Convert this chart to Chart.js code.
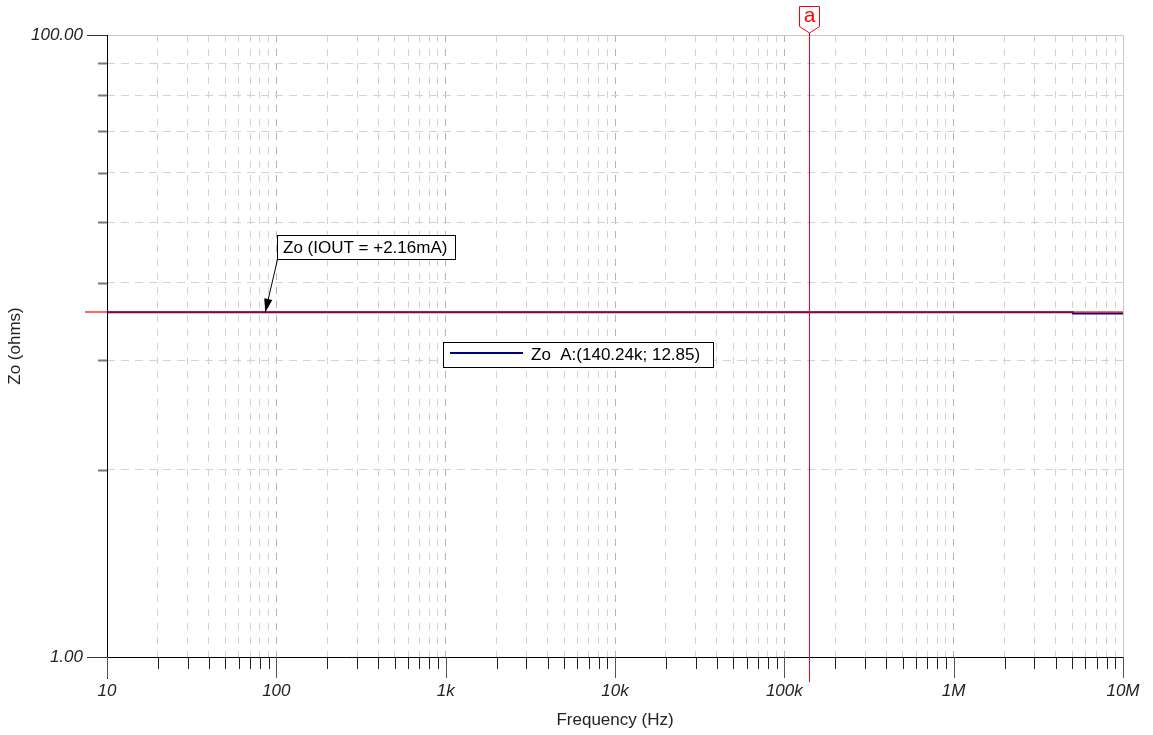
<!DOCTYPE html>
<html>
<head>
<meta charset="utf-8">
<script src="https://cdn.jsdelivr.net/npm/chart.js@4/dist/chart.umd.min.js"></script>
<style>
  html, body { margin: 0; padding: 0; background: #fff; }
  #wrap { width: 1153px; height: 735px; position: relative; }
</style>
</head>
<body>
<div id="wrap"><canvas id="zoChart"></canvas></div>
<script>
// trace data (frequency in Hz, impedance in ohms)
const freqs = [10, 100, 1000, 10000, 100000, 1000000, 5060000, 5070000, 10000000];
const zo = [12.85, 12.85, 12.85, 12.85, 12.85, 12.85, 12.85, 12.72, 12.72];

// axis ticks
const xDecades = [10, 100, 1e3, 1e4, 1e5, 1e6, 1e7];
const xDecadeLabels = ['10', '100', '1k', '10k', '100k', '1M', '10M'];
const yGridValues = [4, 9, 16, 25, 36, 49, 64, 81];
const yLabelValues = [1, 100];
const yLabels = ['1.00', '100.00'];

// cursor A
const cursorX = 140240;
const cursorY = 12.85;
const arrowTarget = 86;
const traceName = 'Zo';
const annotationText = 'Zo (IOUT = +2.16mA)';

let xTicks = [];
for (let d = 0; d < xDecades.length; d++) {
    xTicks.push(xDecades[d]);
    if (d < xDecades.length - 1) {
        for (let m = 2; m <= 9; m++) xTicks.push(xDecades[d] * m);
    }
}
const yTicks = [1].concat(yGridValues).concat([100]);

Chart.defaults.font.family = '"Liberation Sans", Arial, sans-serif';

const cursorPlugin = {
    id: 'cursor',
    afterDatasetsDraw(chart) {
        const ctx = chart.ctx;
        const ys = chart.scales.y;
        const area = chart.chartArea;
        const cy = Math.round(ys.getPixelForValue(cursorY));
        ctx.save();
        ctx.setLineDash([]);
        ctx.strokeStyle = 'rgba(255,0,0,0.6)';
        ctx.lineWidth = 2;
        ctx.beginPath();
        ctx.moveTo(85, cy);
        ctx.lineTo(area.right, cy);
        ctx.stroke();
        ctx.restore();
    },
    afterDraw(chart) {
        const ctx = chart.ctx;
        const xs = chart.scales.x, ys = chart.scales.y;
        const area = chart.chartArea;
        ctx.save();
        ctx.setLineDash([]);
        // top and right frame
        ctx.strokeStyle = '#c8c8c8';
        ctx.lineWidth = 1;
        ctx.beginPath();
        ctx.moveTo(area.left, area.top + 0.5);
        ctx.lineTo(area.right + 0.5, area.top + 0.5);
        ctx.lineTo(area.right + 0.5, area.bottom);
        ctx.stroke();
        // axes
        ctx.strokeStyle = '#000';
        ctx.beginPath();
        ctx.moveTo(87, area.bottom + 0.5);
        ctx.lineTo(area.right + 1, area.bottom + 0.5);
        ctx.moveTo(area.left + 0.5, area.top);
        ctx.lineTo(area.left + 0.5, 679);
        ctx.stroke();
        // y tick marks
        yTicks.forEach(v => {
            const y = Math.round(ys.getPixelForValue(v)) + 0.5;
            const isLabel = yLabelValues.indexOf(v) >= 0;
            ctx.strokeStyle = isLabel ? '#333' : '#777';
            ctx.lineWidth = isLabel ? 1 : 2;
            ctx.beginPath();
            ctx.moveTo(isLabel ? 87 : 98, y);
            ctx.lineTo(area.left, y);
            ctx.stroke();
        });
        // x tick marks
        xTicks.forEach(v => {
            const x = Math.round(xs.getPixelForValue(v)) + 0.5;
            const major = xDecades.indexOf(v) >= 0;
            ctx.strokeStyle = major ? '#555' : '#222';
            ctx.lineWidth = 1;
            ctx.beginPath();
            ctx.moveTo(x, area.bottom);
            ctx.lineTo(x, area.bottom + (major ? 21 : 12));
            ctx.stroke();
        });
        // vertical cursor line and marker "a"
        const cx = Math.round(xs.getPixelForValue(cursorX));
        ctx.fillStyle = '#ff0000';
        ctx.fillRect(cx, 30, 1, 652);
        ctx.fillStyle = '#fff';
        ctx.strokeStyle = '#ff0000';
        ctx.lineWidth = 1;
        ctx.beginPath();
        ctx.moveTo(cx - 9.5, 6.5);
        ctx.lineTo(cx + 10.5, 6.5);
        ctx.lineTo(cx + 10.5, 26.5);
        ctx.lineTo(cx + 0.5, 33);
        ctx.lineTo(cx - 9.5, 26.5);
        ctx.closePath();
        ctx.fill();
        ctx.stroke();
        ctx.fillStyle = '#ff0000';
        ctx.font = '21px "Liberation Sans", Arial';
        ctx.textAlign = 'center';
        ctx.textBaseline = 'middle';
        ctx.fillText('a', cx + 0.5, 16);
        // annotation with arrow
        ctx.font = '17px "Liberation Sans", Arial';
        ctx.textBaseline = 'middle';
        ctx.textAlign = 'left';
        ctx.fillStyle = '#fff';
        ctx.fillRect(277, 235, 178, 24);
        ctx.strokeStyle = '#000';
        ctx.strokeRect(277.5, 235.5, 178, 24);
        ctx.fillStyle = '#000';
        ctx.fillText(annotationText, 283, 248);
        const tx = xs.getPixelForValue(arrowTarget);
        const ty = ys.getPixelForValue(cursorY);
        const sx = 277.5, sy = 259.5;
        ctx.beginPath();
        ctx.moveTo(sx, sy);
        ctx.lineTo(tx, ty);
        ctx.stroke();
        const ang = Math.atan2(ty - sy, tx - sx);
        ctx.beginPath();
        ctx.moveTo(tx, ty);
        ctx.lineTo(tx - 14 * Math.cos(ang - 0.3), ty - 14 * Math.sin(ang - 0.3));
        ctx.lineTo(tx - 14 * Math.cos(ang + 0.3), ty - 14 * Math.sin(ang + 0.3));
        ctx.closePath();
        ctx.fill();
        // legend box
        ctx.fillStyle = '#fff';
        ctx.fillRect(443, 342, 270, 25);
        ctx.strokeStyle = '#000';
        ctx.strokeRect(443.5, 342.5, 270, 25);
        ctx.strokeStyle = '#000080';
        ctx.lineWidth = 2;
        ctx.beginPath();
        ctx.moveTo(450, 353);
        ctx.lineTo(523, 353);
        ctx.stroke();
        ctx.fillStyle = '#000';
        const yv = cursorY.toFixed(2);
        const xv = (cursorX / 1000).toFixed(2) + 'k';
        ctx.fillText(traceName + '  A:(' + xv + '; ' + yv + ')', 531, 355);
        ctx.restore();
    }
};

new Chart(document.getElementById('zoChart'), {
    type: 'line',
    data: {
        datasets: [{
            label: traceName,
            data: freqs.map((f, i) => ({ x: f, y: zo[i] })),
            borderColor: '#000080',
            borderWidth: 2,
            pointRadius: 0,
            tension: 0
        }]
    },
    options: {
        responsive: true,
        maintainAspectRatio: false,
        animation: false,
        layout: { padding: { top: 35, right: 30, left: 0, bottom: 0 } },
        plugins: { legend: { display: false }, tooltip: { enabled: false } },
        scales: {
            x: {
                type: 'logarithmic',
                min: 10,
                max: 1e7,
                afterBuildTicks: s => { s.ticks = xTicks.map(v => ({ value: v })); },
                afterFit: s => { s.height = 78; s.paddingLeft = 0; s.paddingRight = 0; },
                ticks: {
                    autoSkip: false,
                    maxRotation: 0,
                    padding: 24,
                    color: '#222',
                    font: { size: 17, style: 'italic' },
                    callback: v => {
                        const i = xDecades.indexOf(v);
                        return i >= 0 ? xDecadeLabels[i] : '';
                    }
                },
                grid: {
                    drawTicks: false,
                    color: c => {
                        const v = c.tick ? c.tick.value : 0;
                        if (v === 10 || v === 1e7) return 'rgba(0,0,0,0)';
                        return xDecades.indexOf(v) >= 0 ? '#b4b4b4' : '#d2d2d2';
                    }
                },
                border: { display: false, dash: [7, 7] },
                title: {
                    display: true,
                    text: 'Frequency (Hz)',
                    color: '#222',
                    font: { size: 17 },
                    padding: 4
                }
            },
            y: {
                type: 'logarithmic',
                min: 1,
                max: 100,
                afterBuildTicks: s => { s.ticks = yTicks.map(v => ({ value: v })); },
                afterFit: s => { s.width = 107; s.paddingTop = 0; s.paddingBottom = 0; },
                ticks: {
                    autoSkip: false,
                    padding: 24,
                    color: '#222',
                    font: { size: 17, style: 'italic' },
                    callback: v => {
                        const i = yLabelValues.indexOf(v);
                        return i >= 0 ? yLabels[i] : '';
                    }
                },
                grid: {
                    drawTicks: false,
                    color: c => {
                        const v = c.tick ? c.tick.value : 0;
                        return yLabelValues.indexOf(v) >= 0 ? 'rgba(0,0,0,0)' : '#d2d2d2';
                    }
                },
                border: { display: false, dash: [8, 6] },
                title: {
                    display: true,
                    text: 'Zo (ohms)',
                    color: '#222',
                    font: { size: 17 },
                    padding: 5
                }
            }
        }
    },
    plugins: [cursorPlugin]
});
</script>
</body>
</html>
